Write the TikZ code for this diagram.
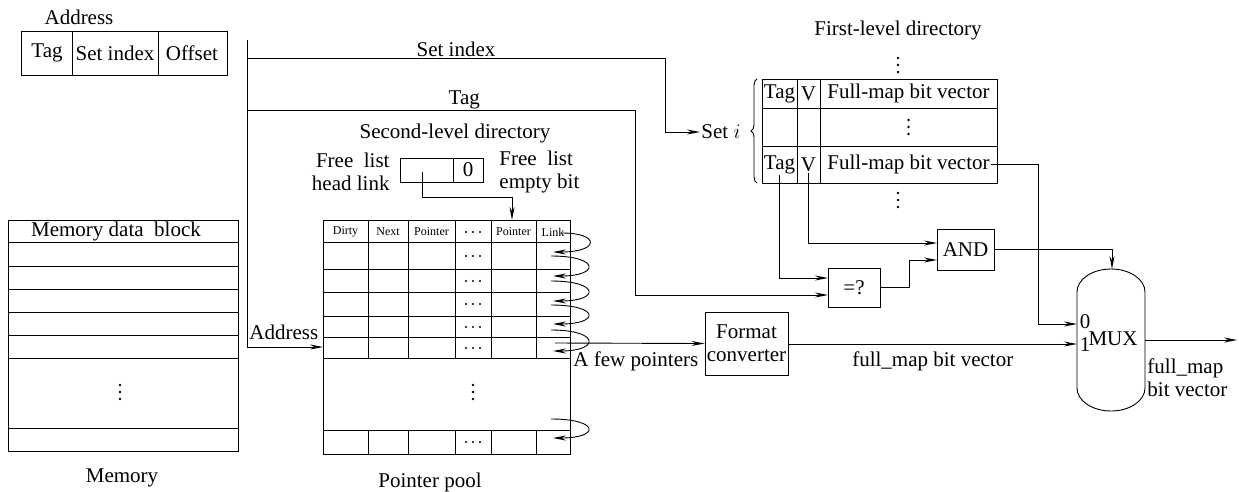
\documentclass[tikz,border=0pt]{standalone}
\usepackage{fontspec}
\setmainfont{Liberation Serif}
\usetikzlibrary{arrows.meta,positioning,decorations.pathreplacing}
\begin{document}
\begin{tikzpicture}[x=1pt,y=-1pt,line width=0.9pt,
  font=\fontsize{21}{23}\selectfont,
  >={Stealth[length=13pt,width=5pt]}]
\tikzset{box/.style={draw, align=center, inner sep=1pt},
  tiny/.style={font=\fontsize{12}{13}\selectfont, inner sep=0pt},
  txt/.style={inner sep=1pt},
  vdts/.pic={\fill (0,-7) circle (1.3pt) (0,0) circle (1.3pt) (0,7) circle (1.3pt);},
  hdts/.pic={\fill (-7,0) circle (1.2pt) (0,0) circle (1.2pt) (7,0) circle (1.2pt);}}
\useasboundingbox (0,0) rectangle (1239,491);
% address fields
\node[txt] (addrlbl) at (79,17) {Address};
\draw (21,31) rectangle (227,75) (72,31) -- (72,75) (158,31) -- (158,75);
\node[txt] (ftag) at (47,53) {Tag};
\node[txt] (fset) at (115,53) {Set index};
\node[txt] (foff) at (192,53) {Offset};
% memory
\draw (8,220) rectangle (238,451);
\foreach \y in {242,266,289,312,335,358,428} \draw (8,\y) -- (238,\y);
\node[txt] (mdb) at (116,231) {Memory data\ \ block};
\pic at (120,392) {vdts};
\node[txt] (mem) at (122,478) {Memory};
% second-level directory
\node[txt] (sld) at (455,133) {Second-level directory};
\draw (400,158) rectangle (483,182) (453,158) -- (453,182);
\node[txt] (ebit) at (468,170) {0};
\node[txt, align=right, anchor=east] (fhl) at (391,172) {Free\ \ list\\head link};
\node[txt, align=left, anchor=west] (feb) at (498,172) {Free\ \ list\\empty bit};
% pointer pool
\draw (323,220) rectangle (570,454);
\foreach \y in {242,269,292,316,337,358,430} \draw (323,\y) -- (570,\y);
\foreach \x in {368,408,455,491,536} {
  \draw (\x,220) -- (\x,358);
  \draw (\x,430) -- (\x,454);
}
\foreach \x/\t in {345.5/Dirty, 388/Next, 431.5/Pointer, 513.5/Pointer, 553/Link}
  \node[tiny] at (\x,232) {\t};
\foreach \y in {232,256,281,304,327,348,442}
  \pic at (473,\y) {hdts};
\pic at (473,392) {vdts};
\node[txt] (pool) at (430,482) {Pointer pool};
\draw[->] (562,233) .. controls (600,233) and (600,252) .. (553,252);
\foreach \s/\e in {256/276, 281/301, 305/324, 330/351, 419/438}
  \draw[->] (551,\s) .. controls (600,\s) and (600,\e) .. (553,\e);
% first-level directory
\node[txt] (fld) at (898,30) {First-level directory};
\pic at (898,65) {vdts};
\draw (762,79) rectangle (997,183) (762,108) -- (997,108) (762,146) -- (997,146)
  (797,79) -- (797,183) (820,79) -- (820,183);
\node[txt] (ta) at (779.5,93.5) {Tag};
\node[txt] (va) at (808.5,93.5) {V};
\node[txt] (fa) at (908.5,93.5) {Full-map bit vector};
\pic at (908.5,127) {vdts};
\node[txt] (tb) at (779.5,164.5) {Tag};
\node[txt] (vb) at (808.5,164.5) {V};
\node[txt] (fb) at (908.5,164.5) {Full-map bit vector};
\pic at (898,200) {vdts};
\draw[decorate, decoration={brace, amplitude=6pt}] (757,183) -- (757,79);
\node[txt, anchor=west] (set) at (700,132) {Set $i$};
% logic
\node[box, minimum width=52pt, minimum height=39pt] (eq) at (854,287.5) {=?};
\node[box, minimum width=57pt, minimum height=41pt] (and) at (965.5,249.5) {AND};
\node[box, minimum width=83pt, minimum height=63pt] (fc) at (746.5,343.5) {Format\\converter};
\draw (1077,292) arc (180:360:34 and 23) -- (1145,388) arc (0:180:34 and 23) -- cycle;
\node[txt] (mux) at (1113,339) {MUX};
\node[txt] (m0) at (1085,322) {0};
\node[txt] (m1) at (1085,345) {1};
% ports
\coordinate (bus) at (247,40);
\coordinate (pin) at (323,347);
\coordinate (tg) at (635,295);
\coordinate (hl) at (422,172);
\coordinate (ptop) at (512,220);
\coordinate (eqa) at (828,278);
\coordinate (eqb) at (828,295);
\coordinate (anda) at (937,243);
\coordinate (andb) at (937,260);
\coordinate (muxt) at (1112,269);
\coordinate (mux0) at (1077,324);
\coordinate (mux1) at (1077,344);
\coordinate (out) at (1237,340);
% connectors
\draw[->] (bus) |- (pin);
\node[txt, anchor=south west] (addr) at (248,341) {Address};
\draw[->] (247,58) -- node[txt, above, pos=0.5] {Set index} (665,58) |- (set.west);
\draw[->] (247,110) -- node[txt, above, pos=0.56] {Tag} (635,110) -- (tg) -- (eqb);
\draw[->] (hl) -- (422,197) -| (ptop);
\draw[->] (tb.south) |- (eqa);
\draw[->] (vb.south) |- (anda);
\draw[->] (eq.east) -- (909,287.5) |- (andb);
\draw[->] (and.east) -| (muxt);
\draw[->] (fb.east) -| (1038,324) -- (mux0);
\draw[->] (555,343) -- (fc.west);
\node[txt, anchor=north west] (afp) at (572,350) {A few pointers};
\draw[->] (fc.east |- mux1) -- node[txt, below=6pt] {full\_map bit vector} (mux1);
\draw[->] (1145,340) -- (out);
\node[txt, anchor=north west, align=left] (fmv) at (1146,357) {full\_map\\bit vector};
\end{tikzpicture}
\end{document}
